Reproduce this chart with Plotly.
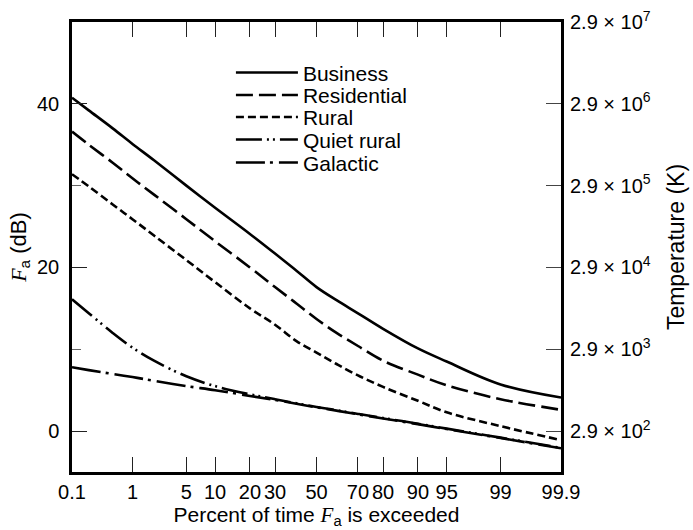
import plotly.graph_objects as go
from statistics import NormalDist

# ---------------- data ----------------
percent = [0.1, 0.2, 0.5, 1, 2, 5, 10, 20, 30, 40, 50, 60, 70, 80, 90, 95, 99, 99.9]

business    = [40.75, 39.2, 37.0, 35.1, 33.1, 30.0, 27.3, 24.1, 21.7, 19.6, 17.6, 16.0, 14.4, 12.5, 10.1, 8.5, 5.7, 4.1]
residential = [36.6, 35.0, 32.8, 30.9, 28.9, 25.9, 23.2, 20.0, 17.6, 15.6, 13.7, 12.0, 10.4, 8.6, 6.9, 5.6, 3.9, 2.6]
rural       = [31.4, 29.9, 27.7, 25.9, 23.9, 20.9, 18.2, 15.0, 13.0, 11.0, 9.6, 8.2, 6.8, 5.4, 3.7, 2.3, 0.6, -1.1]
quiet_rural = [16.1, 14.4, 12.0, 10.2, 8.6, 6.7, 5.5, 4.5, 3.9, 3.4, 2.95, 2.55, 2.1, 1.6, 0.9, 0.3, -0.8, -2.05]
galactic    = [7.8, 7.45, 6.98, 6.6, 6.15, 5.5, 5.0, 4.3, 3.8, 3.35, 2.9, 2.5, 2.05, 1.55, 0.85, 0.25, -0.85, -2.1]

x_ticks = [0.1, 1, 5, 10, 20, 30, 50, 70, 80, 90, 95, 99, 99.9]
x_tick_labels = ["0.1", "1", "5", "10", "20", "30", "50", "70", "80", "90", "95", "99", "99.9"]

fa_ticks = [0, 20, 40]
temp_ticks = [0, 10, 20, 30, 40, 50]
temp_labels = ["2.9 × 10<sup>%d</sup>" % e for e in [2, 3, 4, 5, 6, 7]]

# ---------------- helpers ----------------
nd = NormalDist()


def prob_scale(values):
    """Normal-probability scale for percentages."""
    return [nd.inv_cdf(v / 100.0) for v in values]


FONT = "Liberation Sans, Arial, Helvetica, sans-serif"
SERIF = "Liberation Serif, Times New Roman, serif"
FA = "<span style=\"font-family:%s\"><i>F</i></span><sub>a</sub>" % SERIF

series = [
    ("Business", business, "solid"),
    ("Residential", residential, "17px,6px"),
    ("Rural", rural, "8px,4px"),
    ("Quiet rural", quiet_rural, "26px,5px,2px,4px,2px,5px"),
    ("Galactic", galactic, "29px,5px,3px,6px"),
]

# legend slots (one legend per series so the spacing can follow the reference)
legend_ids = ["legend", "legend2", "legend3", "legend4", "legend5"]
legend_y = [0.887, 0.837, 0.788, 0.738, 0.687]

fig = go.Figure()
xs = prob_scale(percent)
for (name, vals, dash), lid in zip(series, legend_ids):
    fig.add_trace(go.Scatter(
        x=xs, y=vals, name=name, mode="lines", legend=lid,
        line=dict(color="black", width=2.6, dash=dash, shape="spline", smoothing=1.0),
    ))

# empty trace on the secondary (temperature) axis so it is displayed
fig.add_trace(go.Scatter(x=[xs[0]], y=[None], yaxis="y2", showlegend=False,
                         hoverinfo="skip", mode="lines"))

xr = prob_scale([0.1, 99.9])
yr = [-5, 50]

TICK = dict(family=FONT, size=20, color="black")
TITLE = dict(family=FONT, size=21, color="black")

layout_legends = {}
for lid, ly in zip(legend_ids, legend_y):
    layout_legends[lid] = dict(
        x=0.325, y=ly, xanchor="left", yanchor="middle",
        bgcolor="rgba(0,0,0,0)", borderwidth=0,
        font=dict(family=FONT, size=21, color="black"),
        itemwidth=62, tracegroupgap=0,
    )

fig.update_layout(
    width=693, height=530,
    margin=dict(l=72, r=132, t=22, b=58),
    paper_bgcolor="white", plot_bgcolor="white",
    font=dict(family=FONT, size=20, color="black"),
    showlegend=True,
    **layout_legends,
    xaxis=dict(
        range=xr, tickmode="array", tickvals=prob_scale(x_ticks), ticktext=x_tick_labels,
        ticks="inside", ticklen=15, tickwidth=1, tickcolor="#222", tickangle=0,
        showline=True, linewidth=2.5, linecolor="black", mirror="ticks",
        showgrid=False, zeroline=False, automargin=False,
        ticklabelstandoff=0,
        tickfont=TICK,
        title=dict(text="Percent of time " + FA + " is exceeded", font=TITLE, standoff=3),
    ),
    yaxis=dict(
        range=yr, tickmode="array", tickvals=fa_ticks,
        ticks="inside", ticklen=15, tickwidth=1, tickcolor="#222",
        minor=dict(ticks="inside", ticklen=9, tickwidth=1, tickcolor="#666", dtick=10, tick0=0),
        showline=True, linewidth=2.5, linecolor="black", mirror=True,
        showgrid=False, zeroline=False, automargin=False,
        ticklabelstandoff=6,
        tickfont=TICK,
        title=dict(text=FA + " (dB)", font=dict(family=FONT, size=22, color="black"), standoff=5),
    ),
    yaxis2=dict(
        range=yr, overlaying="y", side="right", tickmode="array",
        tickvals=temp_ticks, ticktext=temp_labels,
        ticks="inside", ticklen=15, tickwidth=1, tickcolor="#444",
        showline=False, showgrid=False, zeroline=False, automargin=False,
        ticklabelstandoff=8,
        tickfont=TICK,
        title=dict(text="Temperature (K)", font=dict(family=FONT, size=23, color="black"), standoff=18),
    ),
)

fig.write_html("out.html")
